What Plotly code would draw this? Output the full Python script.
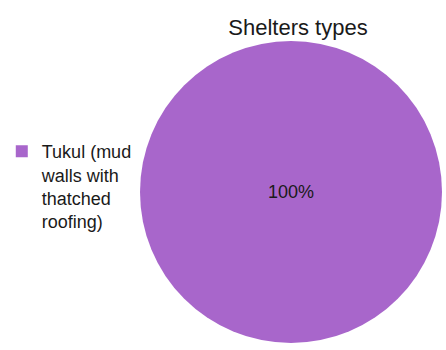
import plotly.graph_objects as go

categories = ["Tukul (mud<br>walls with<br>thatched<br>roofing)"]
values = [100]
colors = ["#A866CB"]

fig = go.Figure(go.Pie(
    labels=categories,
    values=values,
    marker=dict(colors=colors, line=dict(width=0)),
    textinfo="percent",
    textposition="inside",
    insidetextfont=dict(color="#1a1a1a", size=18, family="Liberation Sans, Arial"),
    sort=False,
    domain=dict(x=[140/446, 442/446], y=[1-343/350, 1-41/350]),
    showlegend=True,
))

fig.update_layout(
    width=446, height=350,
    margin=dict(l=0, r=0, t=0, b=0),
    paper_bgcolor="white",
    plot_bgcolor="white",
    font=dict(family="Liberation Sans, Arial", color="#1a1a1a"),
    title=dict(text="Shelters types", x=298/446, xanchor="center", y=1-27/350, yanchor="middle",
               font=dict(size=22, color="#1a1a1a")),
    legend=dict(x=0.004, xanchor="left", y=1-133/350, yanchor="top", valign="top",
                font=dict(size=18, color="#1a1a1a"), bgcolor="rgba(0,0,0,0)"),
)

fig.write_html("out.html", config={"displayModeBar": False},
               post_script="document.body.style.margin='0';")
